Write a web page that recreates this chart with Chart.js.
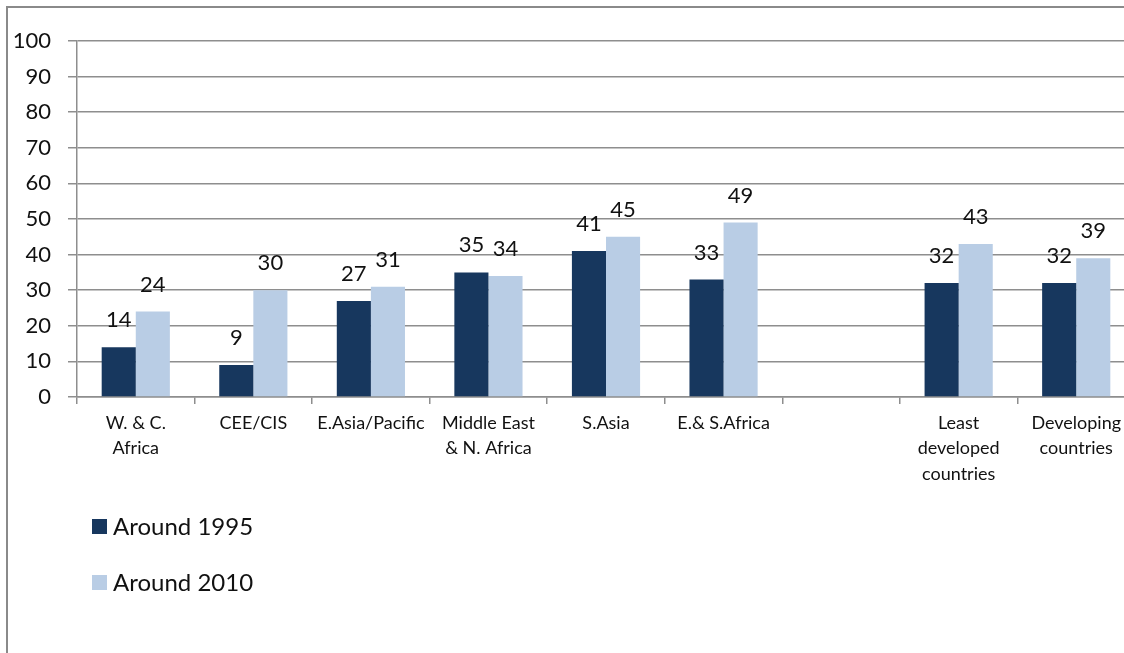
<!DOCTYPE html>
<html>
<head>
<meta charset="utf-8">
<script src="https://cdn.jsdelivr.net/npm/chart.js@4"></script>
<style>
  html, body { margin: 0; padding: 0; width: 1124px; height: 653px; overflow: hidden; background: #fff; }
  #frame { position: absolute; left: 6px; top: 6px; width: 1200px; height: 700px; border: 2px solid #8a8a8a; box-sizing: border-box; }
  #wrap { position: absolute; left: 0; top: 0; width: 1135px; height: 653px; }
</style>
</head>
<body>
<div id="frame"></div>
<div id="wrap"><canvas id="c" width="1135" height="653"></canvas></div>
<script>
const categories = [
  ["W. & C.", "Africa"],
  "CEE/CIS",
  "E.Asia/Pacific",
  ["Middle East", "& N. Africa"],
  "S.Asia",
  "E.& S.Africa",
  "",
  ["Least", "developed", "countries"],
  ["Developing", "countries"]
];
const around1995 = [14, 9, 27, 35, 41, 33, null, 32, 32];
const around2010 = [24, 30, 31, 34, 45, 49, null, 43, 39];
const yTicks = [0, 10, 20, 30, 40, 50, 60, 70, 80, 90, 100];

const FONT = "Lato, 'Open Sans', 'DejaVu Sans', sans-serif";
const GRID = '#8e8e8e';

// value labels above each bar
const valueLabels = {
  id: 'valueLabels',
  afterDatasetsDraw(chart) {
    const ctx = chart.ctx;
    ctx.save();
    ctx.font = '22px ' + FONT;
    ctx.fillStyle = '#111';
    ctx.textAlign = 'center';
    ctx.textBaseline = 'alphabetic';
    chart.data.datasets.forEach((ds, i) => {
      chart.getDatasetMeta(i).data.forEach((bar, j) => {
        const v = ds.data[j];
        if (v === null || v === undefined) return;
        ctx.fillText(String(v), bar.x, bar.y - 20);
      });
    });
    ctx.restore();
  }
};

// stacked legend in the lower left
const stackedLegend = {
  id: 'stackedLegend',
  afterDraw(chart) {
    const ctx = chart.ctx;
    ctx.save();
    ctx.font = '24px ' + FONT;
    ctx.textBaseline = 'middle';
    ctx.textAlign = 'left';
    chart.data.datasets.forEach((ds, i) => {
      const y = 526 + i * 56;
      ctx.fillStyle = ds.backgroundColor;
      ctx.fillRect(92, y - 7, 15, 15);
      ctx.fillStyle = '#111';
      ctx.fillText(ds.label, 113, y + 1);
    });
    ctx.restore();
  }
};

new Chart(document.getElementById('c'), {
  type: 'bar',
  data: {
    labels: categories,
    datasets: [
      { label: 'Around 1995', data: around1995, backgroundColor: '#17375E' },
      { label: 'Around 2010', data: around2010, backgroundColor: '#B9CDE5' }
    ]
  },
  options: {
    responsive: false,
    animation: false,
    devicePixelRatio: 1,
    layout: { padding: { top: 41, left: 0, right: 0, bottom: 0 } },
    datasets: { bar: { categoryPercentage: 0.58, barPercentage: 1.0 } },
    plugins: { legend: { display: false }, tooltip: { enabled: false } },
    scales: {
      x: {
        afterFit(scale) { scale.height = 653 - 41 - 356; },
        grid: { display: true, drawOnChartArea: false, drawTicks: true, tickLength: 7, color: GRID, lineWidth: 1.5, offset: true },
        border: { display: true, color: GRID, width: 1.5 },
        ticks: { color: '#111', font: { family: FONT, size: 18, lineHeight: 1.42 }, padding: 6, maxRotation: 0, autoSkip: false }
      },
      y: {
        min: 0, max: 100,
        afterFit(scale) { scale.width = 77; },
        afterBuildTicks(scale) { scale.ticks = yTicks.map(v => ({ value: v })); },
        grid: { color: GRID, lineWidth: 1.5, drawTicks: true, tickLength: 9 },
        border: { display: true, color: GRID, width: 1.5 },
        ticks: { color: '#111', font: { family: FONT, size: 22 }, padding: 17 }
      }
    }
  },
  plugins: [valueLabels, stackedLegend]
});
</script>
</body>
</html>
